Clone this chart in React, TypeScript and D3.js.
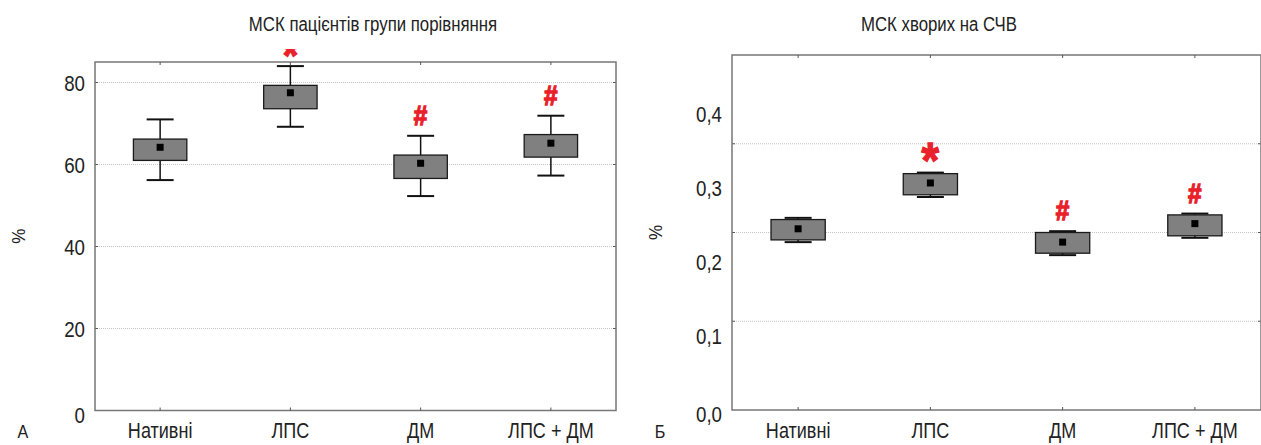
import React from "react"
import * as d3 from "d3"

const categories = ["Нативні", "ЛПС", "ДМ", "ЛПС + ДМ"]

// panel A: % of cells, comparison group
const meanA = [64.2, 77.5, 60.3, 65.2]
const boxLowA = [61.0, 73.6, 56.6, 61.8]
const boxHighA = [66.2, 79.3, 62.3, 67.3]
const whiskLowA = [56.2, 69.2, 52.3, 57.3]
const whiskHighA = [71.0, 84.0, 67.0, 71.9]
const marksA = ["", "*", "#", "#"]
const ticksA = [0, 20, 40, 60, 80]
const tickLabelsA = ["0", "20", "40", "60", "80"]
const gridA = [20, 40, 60, 80]

// panel Б: SLE patients
const meanB = [0.245, 0.307, 0.227, 0.252]
const boxLowB = [0.23, 0.291, 0.212, 0.2355]
const boxHighB = [0.2575, 0.3196, 0.24, 0.2638]
const whiskLowB = [0.227, 0.288, 0.2094, 0.2328]
const whiskHighB = [0.2598, 0.321, 0.2418, 0.2656]
const marksB = ["", "*", "#", "#"]
const ticksB = [0, 0.1, 0.2, 0.3, 0.4]
const tickLabelsB = ["0,0", "0,1", "0,2", "0,3", "0,4"]
const gridB = [0.12, 0.24, 0.36]

const FONT = "'Liberation Sans', Arial, sans-serif"
const RED = "#e8212b"

// narrow text: regular font squeezed horizontally
const T = (props: {
  x: number
  y: number
  size: number
  anchor?: string
  sx?: number
  rotate?: number
  children: React.ReactNode
}) => (
  <text
    transform={`translate(${props.x},${props.y}) rotate(${props.rotate ?? 0}) scale(${props.sx ?? 0.8},1)`}
    textAnchor={props.anchor ?? "middle"}
    fontSize={props.size}
    fill="#222"
  >
    {props.children}
  </text>
)

type PanelProps = {
  id: string
  title: string
  titleX: number
  letter: string
  left: number
  right: number
  top: number
  bottom: number
  yMax: number
  mean: number[]
  boxLow: number[]
  boxHigh: number[]
  whiskLow: number[]
  whiskHigh: number[]
  marks: string[]
  ticks: number[]
  tickLabels: string[]
  grid: number[]
  capWidth: number
  starSize: number
  clipTop?: number
}

const Panel = (p: PanelProps) => {
  const x = d3.scaleBand<string>().domain(categories).range([p.left, p.right])
  const y = d3.scaleLinear().domain([0, p.yMax]).range([p.bottom, p.top])
  const bw = x.bandwidth() * 0.41
  const cx = (c: string) => x(c)! + x.bandwidth() / 2
  const midY = (p.top + p.bottom) / 2

  return (
    <g>
      <defs>
        <clipPath id={"clip-" + p.id}>
          <rect x={p.left} y={p.clipTop ?? 0} width={p.right - p.left} height={445} />
        </clipPath>
      </defs>
      <T x={p.titleX} y={31} size={21} sx={0.8}>
        {p.title}
      </T>
      {/* grid */}
      {p.grid.map((g) => (
        <g key={"g" + g}>
          <line x1={p.left} x2={p.right} y1={y(g)} y2={y(g)} stroke="#c4c4c4" strokeWidth={1} strokeDasharray="1,1" />
          <line x1={p.left} x2={p.left + 3} y1={y(g)} y2={y(g)} stroke="#555" strokeWidth={1} />
          <line x1={p.right - 3} x2={p.right} y1={y(g)} y2={y(g)} stroke="#555" strokeWidth={1} />
        </g>
      ))}
      {/* frame */}
      <rect x={p.left} y={p.top} width={p.right - p.left} height={p.bottom - p.top} fill="none" stroke="#777" strokeWidth={1.5} />
      {categories.map((c) => (
        <g key={"t" + c}>
          <line x1={cx(c)} x2={cx(c)} y1={p.bottom} y2={p.bottom - 3} stroke="#555" />
          <line x1={cx(c)} x2={cx(c)} y1={p.top} y2={p.top + 3} stroke="#555" />
          <T x={cx(c)} y={438} size={22} sx={0.82}>
            {c}
          </T>
        </g>
      ))}
      {p.ticks.map((t, i) => (
        <T key={"y" + t} x={p.left - 10} y={y(t) + (t === 0 ? 12 : 8)} size={22} sx={0.85} anchor="end">
          {p.tickLabels[i]}
        </T>
      ))}
      <T x={p.left - 70} y={midY} size={19} sx={0.9} rotate={-90}>
        %
      </T>
      <T x={p.left - 72} y={438} size={19} sx={0.85}>
        {p.letter}
      </T>
      {/* boxes */}
      {categories.map((c, i) => (
        <g key={"b" + c}>
          <line x1={cx(c)} x2={cx(c)} y1={y(p.whiskLow[i])} y2={y(p.whiskHigh[i])} stroke="#111" strokeWidth={1.5} />
          <line x1={cx(c) - p.capWidth / 2} x2={cx(c) + p.capWidth / 2} y1={y(p.whiskHigh[i])} y2={y(p.whiskHigh[i])} stroke="#111" strokeWidth={2} />
          <line x1={cx(c) - p.capWidth / 2} x2={cx(c) + p.capWidth / 2} y1={y(p.whiskLow[i])} y2={y(p.whiskLow[i])} stroke="#111" strokeWidth={2} />
          <rect x={cx(c) - bw / 2} y={y(p.boxHigh[i])} width={bw} height={y(p.boxLow[i]) - y(p.boxHigh[i])} fill="#808080" stroke="#1a1a1a" strokeWidth={1.3} />
          <rect x={cx(c) - 3.5} y={y(p.mean[i]) - 3.5} width={7} height={7} fill="#000" />
        </g>
      ))}
      <g clipPath={`url(#clip-${p.id})`}>
        {categories.map((c, i) =>
          p.marks[i] ? (
            <text
              key={"m" + c}
              transform={`translate(${cx(c)},${y(p.whiskHigh[i]) - (p.marks[i] === "*" ? -p.starSize * 0.1 : 11)}) scale(0.9,1)`}
              textAnchor="middle"
              fontWeight="bold"
              fontSize={p.marks[i] === "*" ? p.starSize : 27}
              fill={RED}
              stroke={RED}
              strokeWidth={1.3}
            >
              {p.marks[i]}
            </text>
          ) : null
        )}
      </g>
    </g>
  )
}

const App = () => {
  return (
    <svg width={1261} height={445} style={{ position: "absolute", left: 0, top: 0, background: "#fff" }} fontFamily={FONT}>
      <Panel
        id="a"
        title="МСК пацієнтів групи порівняння"
        titleX={373}
        letter="А"
        left={95}
        right={616}
        top={62}
        bottom={410.5}
        yMax={85}
        mean={meanA}
        boxLow={boxLowA}
        boxHigh={boxHighA}
        whiskLow={whiskLowA}
        whiskHigh={whiskHighA}
        marks={marksA}
        ticks={ticksA}
        tickLabels={tickLabelsA}
        grid={gridA}
        capWidth={27}
        starSize={44}
        clipTop={49}
      />
      <Panel
        id="b"
        title="МСК хворих на СЧВ"
        titleX={939}
        letter="Б"
        left={732}
        right={1261}
        top={55}
        bottom={410}
        yMax={0.48}
        mean={meanB}
        boxLow={boxLowB}
        boxHigh={boxHighB}
        whiskLow={whiskLowB}
        whiskHigh={whiskHighB}
        marks={marksB}
        ticks={ticksB}
        tickLabels={tickLabelsB}
        grid={gridB}
        capWidth={27}
        starSize={50}
      />
    </svg>
  )
}

export default App
